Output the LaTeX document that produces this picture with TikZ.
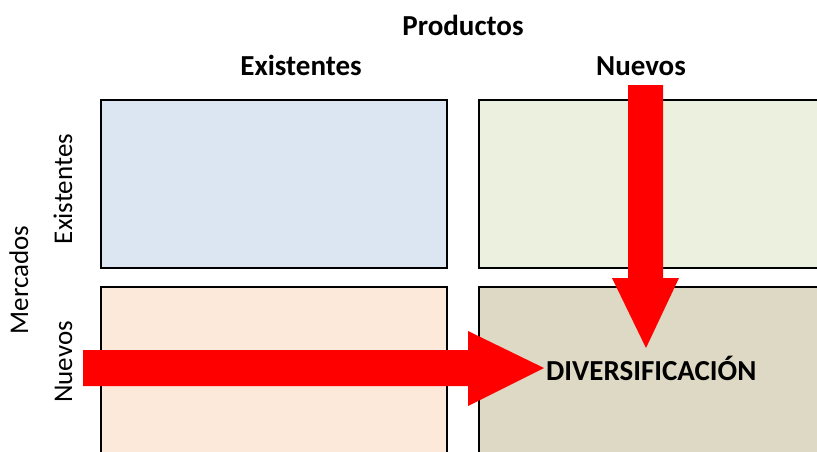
\documentclass[tikz,border=0pt]{standalone}
\usepackage{fontspec}
\setmainfont{Carlito}
\usetikzlibrary{positioning}
\definecolor{cellblue}{HTML}{DCE6F2}
\definecolor{cellgreen}{HTML}{EBF1DE}
\definecolor{cellpeach}{HTML}{FDE9D9}
\definecolor{celltan}{HTML}{DDD9C4}
\definecolor{arrowred}{HTML}{FF0000}
\begin{document}
\begin{tikzpicture}[x=1pt, y=-1pt, font=\fontsize{27}{31}\selectfont,
  cell/.style={draw=black, line width=1.3pt},
  head/.style={font=\fontsize{29}{33}\selectfont\bfseries, anchor=base, inner sep=0pt},
  side/.style={anchor=base, rotate=90, inner sep=0pt}]
\useasboundingbox (0,0) rectangle (817,451);
\clip (0,0) rectangle (817,451);
% Ansoff matrix: four cells, the two on the right run off the page
\filldraw[cell, fill=cellblue]  (101,100) rectangle (447,268);
\filldraw[cell, fill=cellgreen] (479,100) rectangle (830,268);
\filldraw[cell, fill=cellpeach] (101,287) rectangle (447,470);
\filldraw[cell, fill=celltan]   (479,287) rectangle (830,470);

\node[head] (prod) at (463,35) {Productos};
\node[head] (pexist) at (301,75) {Existentes};
\node[head] (pnuevo) at (641,75) {Nuevos};

\node[side] (merc) at (28,280) {Mercados};
\node[side] (mexist) at (72,189) {Existentes};
\node[side] (mnuevo) at (72,362) {Nuevos};

% block arrows into the new/new cell
\fill[arrowred] (628,85) -- (663,85) -- (663,278) -- (679,278) -- (646,348)
  -- (612,278) -- (628,278) -- cycle;
\fill[arrowred] (83,350) -- (468,350) -- (468,331) -- (544,368) -- (468,406)
  -- (468,386) -- (83,386) -- cycle;

\node[head, anchor=base west] (diver) at (546,380) {DIVERSIFICACIÓN};
\end{tikzpicture}
\end{document}
